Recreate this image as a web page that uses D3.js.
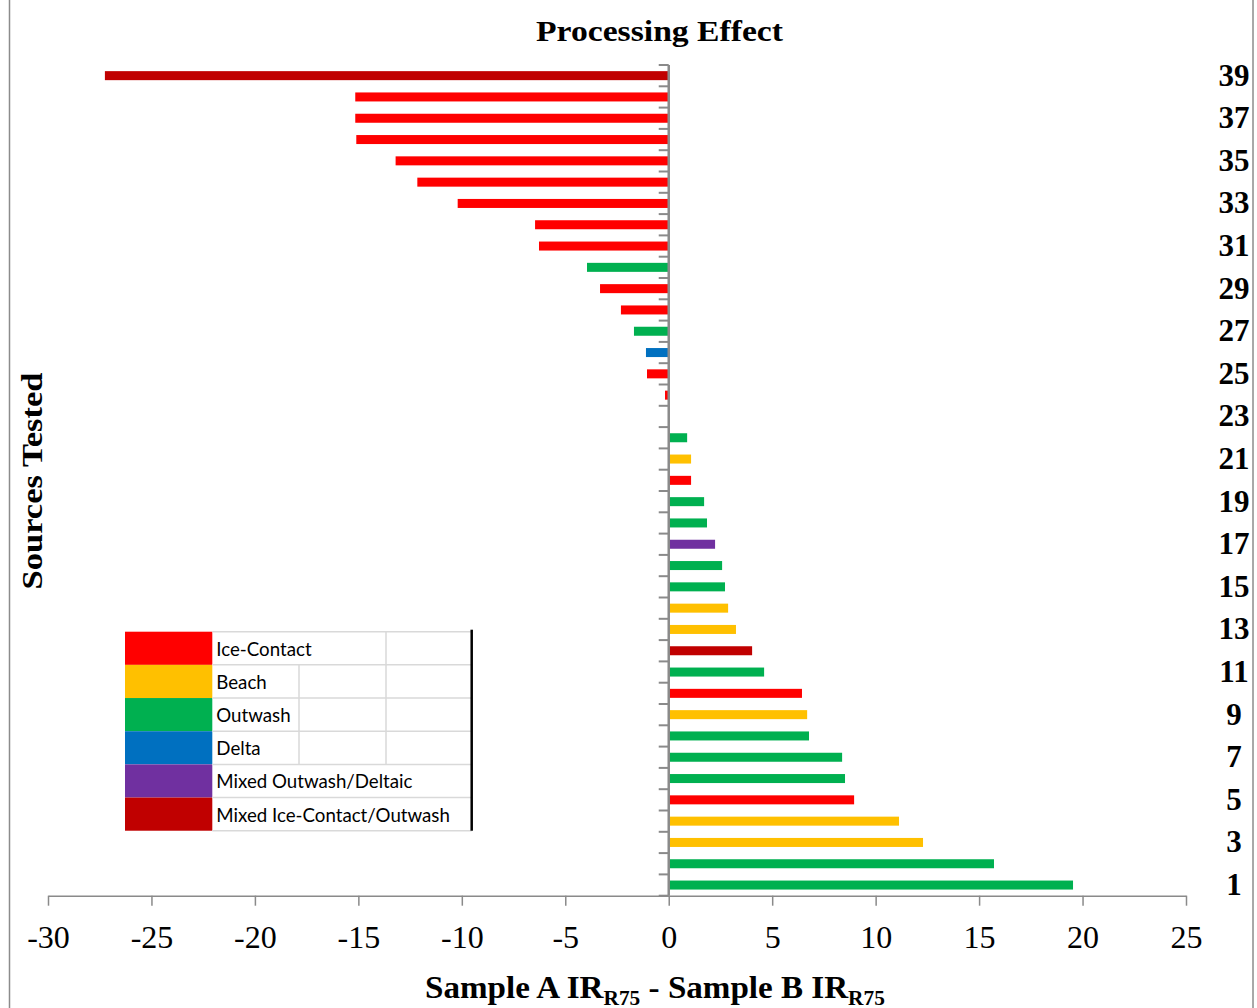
<!DOCTYPE html>
<html>
<head>
<meta charset="utf-8">
<script src="https://cdn.jsdelivr.net/npm/d3@7"></script>
<style>
  html, body { margin: 0; padding: 0; background: #fff; }
  svg { display: block; }
</style>
</head>
<body>
<svg id="chart" width="1257" height="1008"></svg>
<script>
// Source IDs, bottom (1) to top (39)
const sources = d3.range(1, 40);

// Difference in IR_R75 between Sample A and Sample B for each source
const differences = [
  19.54, 15.72, 12.29, 11.13, 8.96, 8.52, 8.38, 6.78, 6.69, 6.44,
  4.61, 4.03, 3.25, 2.87, 2.72, 2.58, 2.24, 1.85, 1.71, 1.08,
  1.08, 0.89, 0, -0.18, -1.05, -1.10, -1.68, -2.31, -3.32, -3.95,
  -6.27, -6.46, -10.2, -12.15, -13.2, -15.1, -15.15, -15.15, -27.25
];

// Deposit type of each source
const depositTypes = [
  "Outwash", "Outwash", "Beach", "Beach", "Ice-Contact", "Outwash", "Outwash", "Outwash", "Beach", "Ice-Contact",
  "Outwash", "Mixed Ice-Contact/Outwash", "Beach", "Beach", "Outwash", "Outwash", "Mixed Outwash/Deltaic", "Outwash", "Outwash", "Ice-Contact",
  "Beach", "Outwash", "Ice-Contact", "Ice-Contact", "Ice-Contact", "Delta", "Outwash", "Ice-Contact", "Ice-Contact", "Outwash",
  "Ice-Contact", "Ice-Contact", "Ice-Contact", "Ice-Contact", "Ice-Contact", "Ice-Contact", "Ice-Contact", "Ice-Contact", "Mixed Ice-Contact/Outwash"
];

// Legend entries and their fill colours
const typeNames = ["Ice-Contact", "Beach", "Outwash", "Delta", "Mixed Outwash/Deltaic", "Mixed Ice-Contact/Outwash"];
const typeColors = ["#FF0000", "#FFC000", "#00B050", "#0070C0", "#7030A0", "#C00000"];

// Axis ticks
const xTickValues = [-30, -25, -20, -15, -10, -5, 0, 5, 10, 15, 20, 25];
const sourceLabels = sources.filter(d => d % 2 === 1);

const data = sources.map((s, i) => ({ source: s, value: differences[i], type: depositTypes[i] }));

const svg = d3.select("#chart");
const axisColor = "#8a8a8a";
const serif = "'Liberation Serif', 'Times New Roman', serif";

const x = d3.scaleLinear().domain([-30, 25]).range([48, 1186]);
const y = d3.scaleBand()
  .domain(sources)
  .range([895.7, 65])
  .paddingInner(0.577)
  .paddingOuter(0.2885);
const color = d3.scaleOrdinal().domain(typeNames).range(typeColors);

// outer frame
svg.append("rect")
  .attr("x", 9.5).attr("y", -2).attr("width", 1243.5).attr("height", 1020)
  .attr("fill", "#fff").attr("stroke", "#8c8c8c").attr("stroke-width", 1.5);

// bars
svg.append("g").selectAll("rect")
  .data(data.filter(d => d.value !== 0))
  .join("rect")
  .attr("x", d => x(Math.min(0, d.value)))
  .attr("width", d => Math.abs(x(d.value) - x(0)))
  .attr("y", d => y(d.source))
  .attr("height", y.bandwidth())
  .attr("fill", d => color(d.type));

// category axis along zero, with ticks at band boundaries
const step = y.step();
const boundaries = sources.map(s => y(s) + y.bandwidth() / 2 + step / 2);
boundaries.push(y(sources[sources.length - 1]) + y.bandwidth() / 2 - step / 2);
const yAxisG = svg.append("g");
yAxisG.selectAll("line.tick")
  .data(boundaries)
  .join("line")
  .attr("class", "tick")
  .attr("x1", x(0) - 10).attr("x2", x(0))
  .attr("y1", d => d).attr("y2", d => d)
  .attr("stroke", axisColor).attr("stroke-width", 2);
yAxisG.append("line")
  .attr("x1", x(0)).attr("x2", x(0))
  .attr("y1", d3.min(boundaries)).attr("y2", d3.max(boundaries))
  .attr("stroke", axisColor).attr("stroke-width", 2.5);

// value axis
const xAxis = d3.axisBottom(x)
  .tickValues(xTickValues)
  .tickSize(10)
  .tickSizeOuter(0)
  .tickPadding(22)
  .tickFormat(d => d);
const xAxisG = svg.append("g")
  .attr("transform", `translate(0, ${895.7})`)
  .call(xAxis);
xAxisG.select(".domain").attr("stroke", axisColor).attr("stroke-width", 1.5);
xAxisG.selectAll(".tick line").attr("stroke", axisColor).attr("stroke-width", 1.5);
xAxisG.selectAll(".tick text")
  .attr("font-family", serif)
  .attr("font-size", 32)
  .attr("fill", "#000")
  .attr("dy", null)
  .attr("y", 52);

// source labels on the right
svg.append("g").selectAll("text")
  .data(sourceLabels)
  .join("text")
  .attr("x", 1234)
  .attr("y", d => y(d) + y.bandwidth() / 2 + 10)
  .attr("text-anchor", "middle")
  .attr("font-family", serif)
  .attr("font-weight", "bold")
  .attr("font-size", 31)
  .attr("fill", "#000")
  .text(d => d);

// stretch a text element horizontally to a target width
function fitWidth(sel, target) {
  const w = sel.node().getComputedTextLength();
  return target / w;
}

// chart title
const title = svg.append("text")
  .attr("text-anchor", "middle")
  .attr("font-family", serif)
  .attr("font-weight", "bold")
  .attr("font-size", 30)
  .text("Processing Effect");
const ts = fitWidth(title, 247);
title.attr("transform", `translate(659.5, 41.3) scale(${ts}, 1)`);

// vertical axis title
const yTitle = svg.append("text")
  .attr("text-anchor", "middle")
  .attr("font-family", serif)
  .attr("font-weight", "bold")
  .attr("font-size", 30)
  .text("Sources Tested");
const ys = fitWidth(yTitle, 217);
yTitle.attr("transform", `translate(42, 481) rotate(-90) scale(${ys}, 1)`);

// horizontal axis title with subscripts
const xTitle = svg.append("text")
  .attr("text-anchor", "middle")
  .attr("font-family", serif)
  .attr("font-weight", "bold")
  .attr("font-size", 31);
xTitle.append("tspan").text("Sample A IR");
xTitle.append("tspan").attr("font-size", 20).attr("dy", 7).text("R75");
xTitle.append("tspan").attr("dy", -7).text(" - Sample B IR");
xTitle.append("tspan").attr("font-size", 20).attr("dy", 7).text("R75");
const xs = fitWidth(xTitle, 460);
xTitle.attr("transform", `translate(655, 998) scale(${xs}, 1)`);

// legend table
const legend = svg.append("g");
const lgX = 125, lgSwW = 87.3, lgRight = 471.7, lgTop = 631.7, lgRowH = 33.17;
const gridColor = "#d9d9d9";
typeNames.forEach((name, i) => {
  const ry = lgTop + i * lgRowH;
  legend.append("rect")
    .attr("x", lgX).attr("y", ry)
    .attr("width", lgSwW).attr("height", lgRowH)
    .attr("fill", typeColors[i]);
  legend.append("text")
    .attr("x", lgX + lgSwW + 4)
    .attr("y", ry + 24)
    .attr("font-family", "Lato, 'Open Sans', sans-serif")
    .attr("font-size", 18.7)
    .attr("fill", "#000")
    .text(name);
});
// table grid
const hLines = d3.range(0, typeNames.length + 1).map(i => lgTop + i * lgRowH);
legend.selectAll("line.h")
  .data(hLines)
  .join("line")
  .attr("class", "h")
  .attr("x1", lgX + lgSwW).attr("x2", lgRight)
  .attr("y1", d => d).attr("y2", d => d)
  .attr("stroke", gridColor).attr("stroke-width", 1.5);
// inner column dividers (only in the rows with short labels)
legend.append("line")
  .attr("x1", 299).attr("x2", 299)
  .attr("y1", lgTop + lgRowH).attr("y2", lgTop + 4 * lgRowH)
  .attr("stroke", gridColor).attr("stroke-width", 1.5);
legend.append("line")
  .attr("x1", 386).attr("x2", 386)
  .attr("y1", lgTop).attr("y2", lgTop + 4 * lgRowH)
  .attr("stroke", gridColor).attr("stroke-width", 1.5);
legend.append("line")
  .attr("x1", lgRight).attr("x2", lgRight)
  .attr("y1", lgTop - 2).attr("y2", lgTop + 6 * lgRowH)
  .attr("stroke", "#000").attr("stroke-width", 2.5);
</script>
</body>
</html>
